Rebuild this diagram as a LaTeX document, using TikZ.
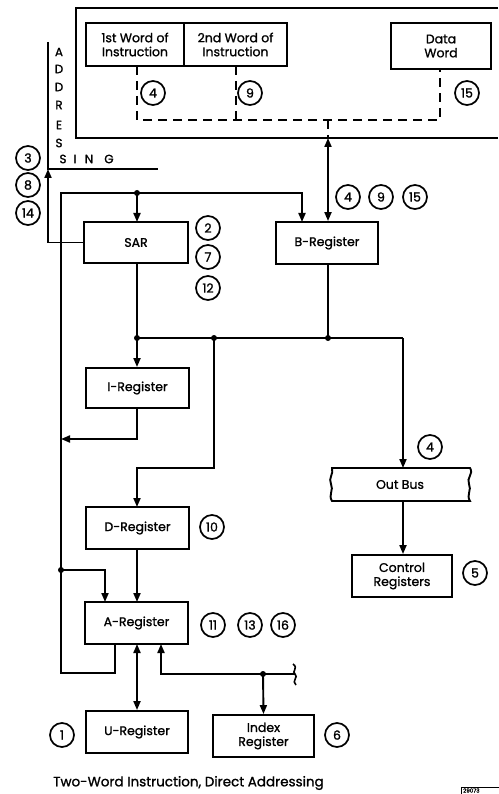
\documentclass[tikz,border=0pt]{standalone}
\usepackage{fontspec}
\setmainfont{Poppins}[FakeBold=1.2]
\usetikzlibrary{arrows.meta}
\tikzset{
  ln/.style={line width=1.9pt},
  arr/.style={ln,-{Triangle[length=9pt,width=7pt]}},
  darr/.style={ln,{Triangle[length=9pt,width=7pt]}-{Triangle[length=9pt,width=7pt]}},
  reg/.style={draw,line width=1.9pt,rectangle,inner sep=0pt,align=center,font=\fontsize{12.5}{14}\selectfont},
  num/.style={draw,circle,line width=1.7pt,minimum size=24pt,inner sep=0pt,font=\fontsize{12.5}{12}\selectfont},
  dot/.style={circle,fill,inner sep=0pt,minimum size=6pt},
  dsh/.style={ln,dash pattern=on 9pt off 6pt},
  lett/.style={inner sep=0pt,font=\fontsize{12}{12}\selectfont}
}
\begin{document}
\begin{tikzpicture}[x=1pt,y=-1pt]
\useasboundingbox (0,0) rectangle (498,794);
% memory box
\draw[ln] (498,8) -- (76,8) -- (76,138) -- (498,138);
\node[reg,minimum width=98pt,minimum height=43pt] (w1) at (135,44.5) {1st Word of\\Instruction};
\node[reg,minimum width=103pt,minimum height=43pt] (w2) at (235.5,44.5) {2nd Word of\\Instruction};
\node[reg,minimum width=100pt,minimum height=46pt] (dw) at (441,46) {Data\\Word};
\coordinate (mt) at (328,120);
\coordinate (mb) at (328,138);
\draw[dsh] (137,66) -- (137,120) -- (440,120) -- (440,69);
\draw[dsh] (236,66) -- (236,120);
\draw[dsh] (mt) -- (mb);
\node[num] (c4a) at (153,93) {4};
\node[num] (c9a) at (250,93) {9};
\node[num] (c15a) at (467,93) {15};
% addressing
\coordinate (adt) at (48,42);
\coordinate (adc) at (48,169);
\coordinate (ade) at (158,169);
\draw[ln] (adt) -- (adc) -- (ade);
\node[lett] (lA) at (59,52) {A};
\node[lett] (lD1) at (59,69) {D};
\node[lett] (lD2) at (59,87) {D};
\node[lett] (lR) at (59,105) {R};
\node[lett] (lE) at (59,125) {E};
\node[lett] (lS) at (59,143) {S};
\node[lett] (lS2) at (63,159) {S};
\node[lett] (lI) at (75,159) {I};
\node[lett] (lN) at (89,159) {N};
\node[lett] (lG) at (109,159) {G};
\node[num] (c3) at (28,158) {3};
\node[num] (c8) at (28,185) {8};
\node[num] (c14) at (28,213) {14};
% SAR and B
\node[reg,minimum width=104pt,minimum height=41pt] (sar) at (136,242.5) {SAR};
\node[reg,minimum width=102pt,minimum height=42pt] (breg) at (327,243) {B-Register};
\draw[arr] (sar.west) -- (48,242.5) -- (adc);
\draw[darr] (mb) -- (breg.north -| mb);
\node[num] (c4b) at (348,197) {4};
\node[num] (c9b) at (381,197) {9};
\node[num] (c15b) at (415,197) {15};
\node[num] (c2) at (208,228) {2};
\node[num] (c7) at (208,257) {7};
\node[num] (c12) at (208,288) {12};
% loop
\node[reg,minimum width=103pt,minimum height=42pt] (areg) at (136.5,623) {A-Register};
\coordinate (ltop) at (61,193);
\coordinate (jt) at (137,193);
\coordinate (lbot) at (61,673);
\coordinate (jl) at (61,570);
\coordinate (jli) at (61,439);
\draw[arr] (115,644) -- (115,673) -- (lbot) -- (ltop) -- (302,193) -- (302,222);
\node[dot] (dt) at (jt) {};
\draw[arr] (jt) -- (137,222);
% I register
\node[reg,minimum width=103pt,minimum height=40pt] (ireg) at (137.5,388) {I-Register};
\coordinate (j1) at (137,338);
\coordinate (j2) at (214,338);
\coordinate (j3) at (328,338);
\coordinate (j4) at (403,338);
\draw[arr] (137,263) -- (ireg.north -| j1);
\draw[ln] (j1) -- (j4);
\draw[ln] (328,264) -- (j3);
\node[dot] at (j1) {};
\node[dot] at (j2) {};
\node[dot] at (j3) {};
\draw[arr] (137,408) -- (137,439) -- (jli);
% D register
\node[reg,minimum width=103pt,minimum height=42pt] (dreg) at (137.5,528) {D-Register};
\draw[arr] (j2) -- (214,468) -- (137,468) -- (137,507);
\node[num] (c10) at (212,527) {10};
\draw[arr] (137,549) -- (137,602);
\node[dot] at (jl) {};
\draw[arr] (jl) -- (105,570) -- (105,602);
% out bus
\node[inner sep=0pt,minimum width=140pt,minimum height=33pt,font=\fontsize{12.5}{14}\selectfont] (ob) at (400,484.5) {Out Bus};
\draw[ln] (332,468) -- (470,468)
  .. controls (474,474) and (466,478) .. (469,484)
  .. controls (472,490) and (466,495) .. (470,501)
  -- (332,501)
  .. controls (328,495) and (334,490) .. (331,484)
  .. controls (328,478) and (334,474) .. (332,468) -- cycle;
\draw[arr] (j4) -- (403,468);
\node[num] (c4c) at (430,447) {4};
\node[reg,minimum width=100pt,minimum height=42pt] (ctrl) at (402,576) {Control\\Registers};
\draw[arr] (403,501) -- (ctrl.north -| j4);
\node[num] (c5) at (475,573) {5};
% A register surroundings
\node[num] (c11) at (213,625) {11};
\node[num] (c13) at (250,625) {13};
\node[num] (c16) at (283,625) {16};
\node[reg,minimum width=102pt,minimum height=42pt] (ureg) at (137,732) {U-Register};
\draw[darr] (137,644) -- (ureg.north -| jt);
\node[num] (c1) at (62,735) {1};
\node[reg,minimum width=101pt,minimum height=42pt] (xreg) at (263.5,736) {Index\\Register};
\node[num] (c6) at (337,735) {6};
\coordinate (jx) at (263,674);
\coordinate (xe) at (295,674);
\draw[arr] (xe) -- (161,674) -- (161,644);
\node[dot] at (jx) {};
\draw[arr] (jx) -- (xreg.north);
\draw[line width=1.6pt] (293,664) .. controls (299,668) and (291,672) .. (295,674) .. controls (299,677) and (291,681) .. (296,685);
% caption
\node[anchor=west,inner sep=0pt,font=\fontsize{13.5}{14}\selectfont] (cap) at (53,783) {Two-Word Instruction, Direct Addressing};
\draw[line width=0.8pt] (461,800) -- (461,787) -- (500,787);
\node[anchor=west,inner sep=0pt,font=\fontsize{5.5}{6}\selectfont] (ref) at (463,790.5) {29073};
\end{tikzpicture}
\end{document}
